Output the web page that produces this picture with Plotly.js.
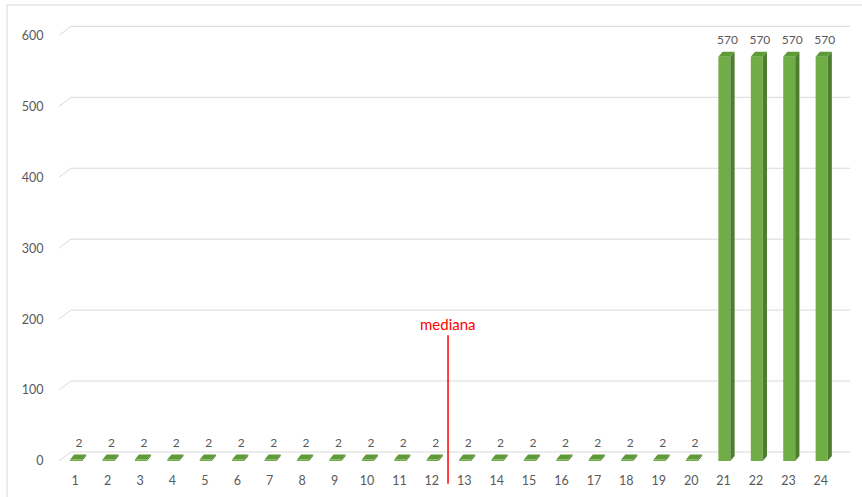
<!DOCTYPE html>
<html>
<head>
<meta charset="utf-8">
<script src="https://cdn.plot.ly/plotly-3.0.1.min.js"></script>
<style>html,body{margin:0;padding:0;background:#fff;}#chart{width:862px;height:497px;}</style>
</head>
<body>
<div id="chart"></div>
<script>
// ---- data ----
const categories = ['1','2','3','4','5','6','7','8','9','10','11','12','13','14','15','16','17','18','19','20','21','22','23','24'];
const values = [2,2,2,2,2,2,2,2,2,2,2,2,2,2,2,2,2,2,2,2,570,570,570,570];
const yTicks = [0,100,200,300,400,500,600];
const medianLabel = 'mediana';

// ---- styling / geometry constants ----
const xs = categories.map((c, i) => i + 1);
const x0f = -0.16, wf = 0.37;   // bar front face offset and width (category units)
const bdx = 0.13, bdy = 7;      // bar depth (3D look)
const gdx = 0.37, gdy = 12.7;   // floor/wall depth for gridlines
const xMin = 0.5, xMax = 24.9;
const FONT = 'Lato, "Noto Sans", sans-serif';

// gridlines as shapes below the bars (back wall + diagonal floor edge)
const shapes = yTicks.map(t => ({
  type: 'path', xref: 'x', yref: 'y', layer: 'below',
  path: `M ${xMin} ${t} L ${xMin + gdx} ${t + gdy} L ${xMax} ${t + gdy}`,
  line: { color: '#D9D9D9', width: 1 }
}));

// top faces and side faces
const tx = [], ty = [], sx = [], sy = [];
xs.forEach((c, i) => {
  const v = values[i];
  const a = c + x0f, b = c + x0f + wf;
  tx.push(a, b, b + bdx, a + bdx, a, null);
  ty.push(v, v, v + bdy, v + bdy, v, null);
  sx.push(b, b, b + bdx, b + bdx, b, null);
  sy.push(0, v, v + bdy, bdy, 0, null);
});

const medianPos = (values.length + 1) / 2;
const medianPaperX = (medianPos - xMin) / (xMax - xMin);

// median line (extends below the axis)
shapes.push({ type: 'line', xref: 'paper', yref: 'paper', x0: medianPaperX, x1: medianPaperX,
  y0: -0.05, y1: 0.277, line: { color: '#FF0000', width: 1.5 }, layer: 'above' });
// chart frame (top and left edges)
shapes.push({ type: 'line', xref: 'paper', yref: 'paper', x0: -0.0657, x1: -0.0657, y0: 1.0044, y1: -0.1,
  line: { color: '#D9D9D9', width: 1 } });
shapes.push({ type: 'line', xref: 'paper', yref: 'paper', x0: -0.0657, x1: 1.1, y0: 1.0044, y1: 1.0044,
  line: { color: '#D9D9D9', width: 1 } });

const traces = [
  { type: 'bar', x: xs, y: values, width: wf, offset: x0f,
    marker: { color: '#70AD47', line: { width: 0 } }, hoverinfo: 'x+y', showlegend: false },
  { type: 'scatter', mode: 'lines', x: sx, y: sy, fill: 'toself', fillcolor: '#4F7D30',
    line: { width: 0, color: '#4F7D30' }, hoverinfo: 'skip', showlegend: false },
  { type: 'scatter', mode: 'lines', x: tx, y: ty, fill: 'toself', fillcolor: '#5E9A38',
    line: { width: 0, color: '#5E9A38' }, hoverinfo: 'skip', showlegend: false },
  { type: 'scatter', mode: 'text', x: xs.map(c => c + 0.12), y: values.map(v => v + bdy + 6),
    text: values.map(String), textposition: 'top center',
    textfont: { family: FONT, size: 12, color: '#595959' },
    hoverinfo: 'skip', showlegend: false, cliponaxis: false }
];

const layout = {
  width: 862, height: 497,
  margin: { l: 59, r: 12, t: 7, b: 36 },
  paper_bgcolor: '#FFFFFF', plot_bgcolor: 'rgba(0,0,0,0)',
  font: { family: FONT, size: 12, color: '#595959' },
  showlegend: false,
  xaxis: { type: 'linear', range: [xMin, xMax], tickvals: xs, ticktext: categories,
    showgrid: false, zeroline: false, showline: false,
    ticks: 'outside', ticklen: 8, tickcolor: 'rgba(0,0,0,0)', fixedrange: true,
    tickfont: { size: 12.5, color: '#595959' } },
  yaxis: { range: [0, 640], tickvals: yTicks, ticktext: yTicks.map(String),
    showgrid: false, zeroline: false, showline: false,
    ticks: 'outside', ticklen: 12, tickcolor: 'rgba(0,0,0,0)', fixedrange: true,
    tickfont: { size: 12.5, color: '#595959' } },
  annotations: [{ x: medianPaperX, y: 0.277, xref: 'paper', yref: 'paper', text: medianLabel, showarrow: false,
    yanchor: 'bottom', font: { size: 15, color: '#FF0000', family: FONT } }],
  shapes: shapes
};

Plotly.newPlot('chart', traces, layout, { displayModeBar: false, staticPlot: true });
</script>
</body>
</html>
